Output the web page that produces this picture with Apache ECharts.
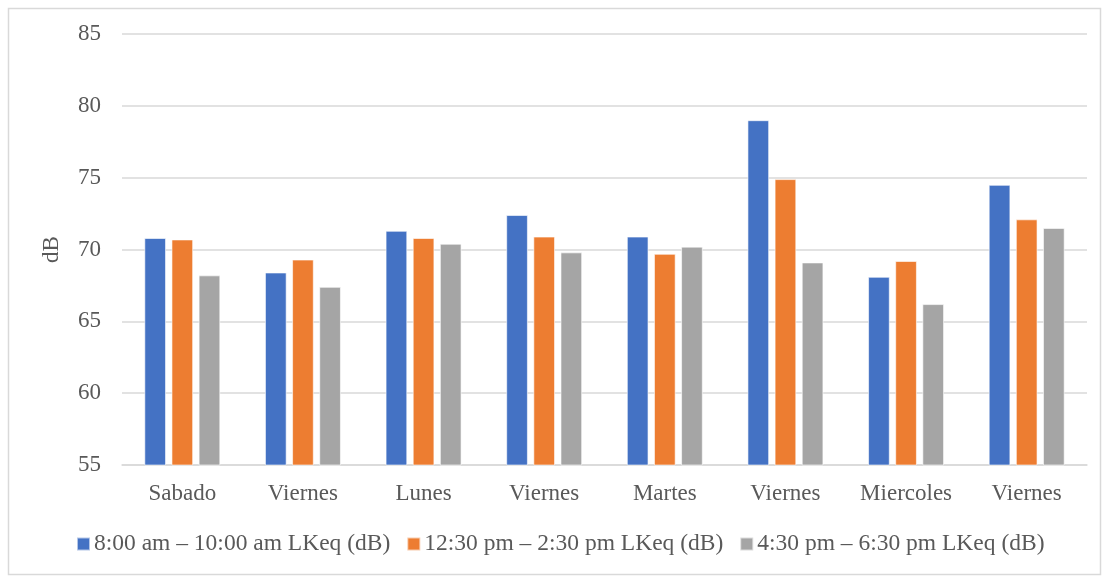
<!DOCTYPE html>
<html>
<head>
<meta charset="utf-8">
<script src="https://cdn.jsdelivr.net/npm/echarts@6/dist/echarts.min.js"></script>
<style>
  html, body { margin: 0; padding: 0; background: #fff; }
  #chart { width: 1105px; height: 578px; }
</style>
</head>
<body>
<div id="chart"></div>
<script>
// Days on which noise levels were measured
const days = ['Sabado', 'Viernes', 'Lunes', 'Viernes', 'Martes', 'Viernes', 'Miercoles', 'Viernes'];

// Equivalent continuous sound level per time window (dB)
const morning = [70.8, 68.4, 71.3, 72.4, 70.9, 79.0, 68.1, 74.5];
const midday = [70.7, 69.3, 70.8, 70.9, 69.7, 74.9, 69.2, 72.1];
const evening = [68.2, 67.4, 70.4, 69.8, 70.2, 69.1, 66.2, 71.5];

const seriesNames = [
  '8:00 am \u2013 10:00 am LKeq (dB)',
  '12:30 pm \u2013 2:30 pm LKeq (dB)',
  '4:30 pm \u2013 6:30 pm LKeq (dB)'
];
const colors = ['#4472C4', '#ED7D31', '#A5A5A5'];

const yMin = 55, yMax = 85, yStep = 5;

const font = 'Liberation Serif, Times New Roman, serif';
const textColor = '#595959';

const chart = echarts.init(document.getElementById('chart'), null, { renderer: 'canvas' });

const makeBar = (name, data, color) => ({
  name: name,
  type: 'bar',
  data: data,
  barWidth: '18%',
  barGap: '25%',
  itemStyle: { color: color, borderColor: 'rgba(255,255,255,0.6)', borderWidth: 1 }
});

chart.setOption({
  animation: false,
  backgroundColor: '#fff',
  textStyle: { fontFamily: font },
  graphic: [{
    type: 'rect',
    left: 6, top: 6,
    shape: { width: 1092, height: 566 },
    style: { fill: 'none', stroke: '#D9D9D9', lineWidth: 1.5 },
    silent: true
  }],
  grid: { left: 122, right: 18, top: 34, bottom: 113 },
  legend: {
    top: 527,
    left: 71,
    itemWidth: 13,
    itemHeight: 13,
    itemGap: 16,
    icon: 'rect',
    textStyle: { fontFamily: font, fontSize: 23.5, color: textColor, padding: [0, 0, 0, -1] },
    data: seriesNames
  },
  xAxis: {
    type: 'category',
    data: days,
    axisLine: { show: true, lineStyle: { color: '#D9D9D9', width: 1.5 } },
    axisTick: { show: false },
    axisLabel: { fontFamily: font, fontSize: 23, color: textColor, margin: 17 }
  },
  yAxis: {
    type: 'value',
    min: yMin,
    max: yMax,
    interval: yStep,
    name: 'dB',
    nameLocation: 'middle',
    nameGap: 59,
    nameRotate: 90,
    nameTextStyle: { fontFamily: font, fontSize: 23, color: textColor },
    axisLine: { show: false },
    axisTick: { show: false },
    axisLabel: { fontFamily: font, fontSize: 23, color: textColor, margin: 21 },
    splitLine: { lineStyle: { color: '#D9D9D9', width: 1.5 } }
  },
  series: [
    makeBar(seriesNames[0], morning, colors[0]),
    makeBar(seriesNames[1], midday, colors[1]),
    makeBar(seriesNames[2], evening, colors[2])
  ]
});
</script>
</body>
</html>
